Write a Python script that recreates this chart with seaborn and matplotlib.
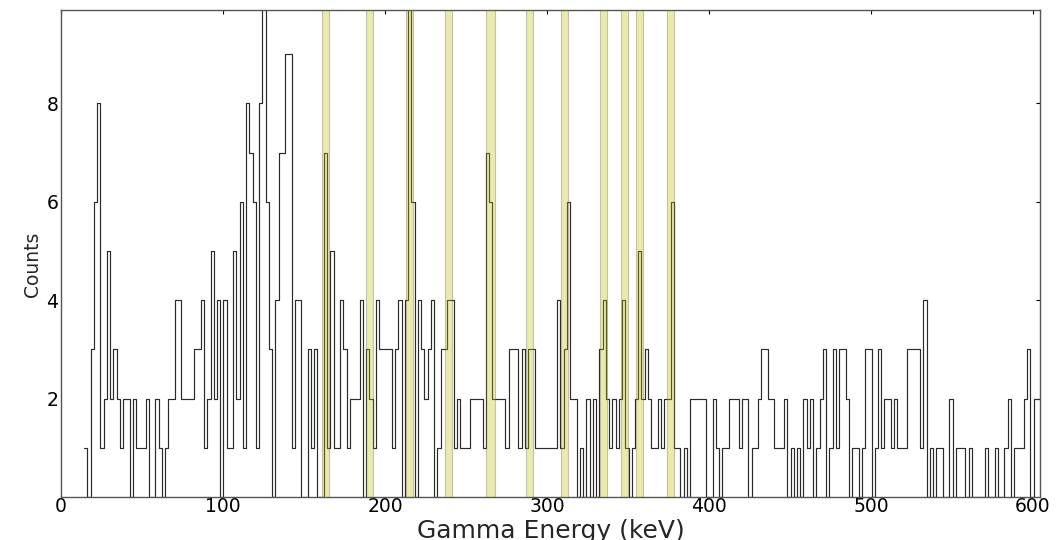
import numpy as np
import pandas as pd
import matplotlib
matplotlib.use("Agg")
import matplotlib.pyplot as plt
import seaborn as sns

# Counts per 2 keV bin
counts = [
    1, 0, 3, 6, 8, 1, 2, 5, 2, 3, 2, 1, 2, 2, 0, 2, 1, 1, 1, 2,
    0, 0, 2, 1, 0, 1, 2, 2, 4, 4, 2, 2, 2, 2, 3, 3, 4, 1, 2, 5,
    2, 4, 0, 4, 1, 1, 5, 2, 6, 1, 8, 7, 6, 1, 8, 10, 6, 3, 0, 4,
    7, 7, 9, 9, 1, 4, 4, 0, 0, 3, 1, 3, 0, 0, 7, 1, 5, 1, 1, 4,
    3, 1, 2, 2, 2, 4, 0, 3, 2, 1, 4, 3, 3, 3, 3, 1, 3, 4, 0, 4,
    10, 6, 0, 4, 3, 2, 3, 4, 0, 1, 3, 3, 4, 4, 1, 2, 1, 1, 1, 2,
    2, 2, 2, 1, 7, 6, 2, 2, 2, 2, 1, 3, 3, 3, 1, 3, 1, 3, 3, 1,
    1, 1, 1, 1, 1, 1, 4, 1, 3, 6, 2, 2, 0, 1, 0, 2, 0, 2, 0, 3,
    4, 2, 1, 2, 1, 2, 4, 1, 0, 1, 2, 5, 2, 3, 2, 1, 1, 2, 1, 2,
    2, 6, 1, 1, 0, 1, 0, 2, 2, 2, 2, 2, 0, 0, 2, 1, 0, 1, 1, 2,
    2, 2, 1, 2, 2, 0, 1, 1, 2, 3, 3, 2, 2, 1, 1, 1, 2, 0, 1, 0,
    1, 0, 2, 1, 2, 0, 1, 2, 3, 0, 1, 3, 1, 3, 3, 2, 0, 1, 1, 0,
    1, 3, 3, 0, 1, 3, 1, 2, 2, 1, 2, 1, 1, 1, 3, 3, 3, 3, 1, 4,
    0, 1, 0, 1, 1, 0, 0, 2, 0, 1, 1, 1, 0, 1, 0, 0, 0, 0, 1, 0,
    0, 1, 0, 0, 1, 2, 0, 1, 1, 1, 2, 3, 0, 2, 2,
]
bin_start = 14.3   # keV, low edge of first bin
bin_width = 2.0    # keV

# Highlighted gamma lines (keV) and window widths
peak_centers = [163.3, 190.3, 215.0, 239.3, 265.2, 289.1, 311.0, 335.0, 348.0, 357.0, 376.2]
peak_widths = [4.4, 4.5, 4.5, 4.5, 5.8, 4.6, 4.5, 4.2, 4.2, 4.3, 4.6]

xlim = (0, 604.3)
ylim = (0, 9.9)
yticks = [2, 4, 6, 8]
xticks = [0, 100, 200, 300, 400, 500, 600]

n = len(counts)
edges = [float(bin_start + bin_width * i) for i in range(n + 1)]
centers = [0.5 * (edges[i] + edges[i + 1]) for i in range(n)]
df = pd.DataFrame({"energy": centers, "counts": counts})

sns.set_theme(style="white")
plt.rcParams["font.family"] = ["DejaVu Sans"]

fig = plt.figure(figsize=(10.61, 5.40), dpi=100)
ax = fig.add_axes([61 / 1061, 43 / 540, (1040 - 61) / 1061, (497 - 10) / 540])

sns.histplot(data=df, x="energy", weights="counts", bins=edges,
             element="step", fill=False, color="#2a2a2a", linewidth=0.85, ax=ax)

for c, w in zip(peak_centers, peak_widths):
    ax.axvspan(c - w / 2, c + w / 2, facecolor=(0.75, 0.75, 0.0),
               edgecolor=(0.35, 0.35, 0.3), linewidth=0.8, alpha=0.32, zorder=3)

ax.set_xlim(*xlim)
ax.set_ylim(*ylim)
ax.set_xticks(xticks)
ax.set_yticks(yticks)

ax.set_xlabel("Gamma Energy (keV)", fontsize=18, va="top")
ax.xaxis.set_label_coords(0.5, (497 - 518.8) / 487)
ax.set_ylabel("Counts", fontsize=13.5)
ax.yaxis.set_label_coords((42 - 61) / 979, (497 - 264) / 487)

ax.tick_params(direction="in", top=True, right=True, length=3, width=0.8,
               labelsize=13.5, colors="black")
ax.tick_params(axis="x", pad=0.3)
ax.tick_params(axis="y", pad=2)
for s in ax.spines.values():
    s.set_color("#555555")
    s.set_linewidth(1.0)

fig.savefig("out.png", dpi=100)
